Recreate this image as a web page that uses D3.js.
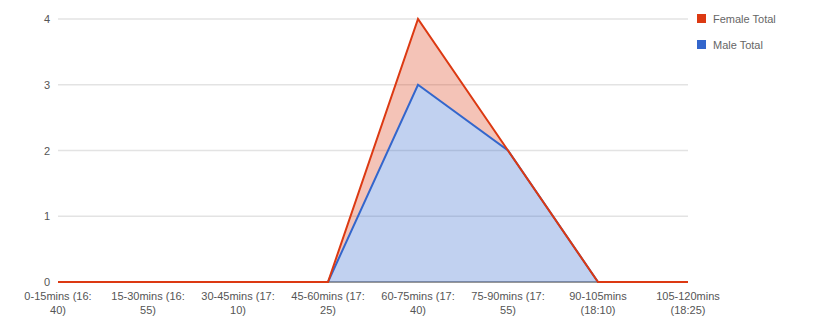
<!DOCTYPE html>
<html><head><meta charset="utf-8">
<script src="https://cdn.jsdelivr.net/npm/d3@7/dist/d3.min.js"></script>
<style>body{margin:0;background:#fff}svg{display:block;font-family:"Liberation Sans",Arial,sans-serif}</style>
</head><body><svg id="c" width="817" height="322"></svg>
<script>
const categories = ["0-15mins (16:40)","15-30mins (16:55)","30-45mins (17:10)","45-60mins (17:25)","60-75mins (17:40)","75-90mins (17:55)","90-105mins (18:10)","105-120mins (18:25)"];
const tickLabelLines = [["0-15mins (16:","40)"],["15-30mins (16:","55)"],["30-45mins (17:","10)"],["45-60mins (17:","25)"],["60-75mins (17:","40)"],["75-90mins (17:","55)"],["90-105mins","(18:10)"],["105-120mins","(18:25)"]];
const femaleTotal = [0,0,0,0,4,2,0,0];
const maleTotal = [0,0,0,0,3,2,0,0];
const yTicks = [0,1,2,3,4];
const seriesNames = ["Female Total","Male Total"];
const colors = ["#dc3912","#3366cc"];

const svg = d3.select("#c");
const x = d3.scalePoint().domain(categories).range([58,688]);
const y = d3.scaleLinear().domain([0,4]).range([282,19]);

// gridlines
svg.append("g").selectAll("line").data(yTicks).join("line")
  .attr("x1",58).attr("x2",688).attr("y1",d=>y(d)).attr("y2",d=>y(d))
  .attr("stroke",d=>d===0?"#333":"#e3e3e3").attr("stroke-width",d=>d===0?1:1.5);
svg.append("g").selectAll("text").data(yTicks).join("text")
  .attr("x",50).attr("y",d=>y(d)+4).attr("text-anchor","end")
  .attr("font-size",11).attr("fill","#555").text(d=>d);

const area = vals => d3.area().x((d,i)=>x(categories[i])).y0(y(0)).y1(d=>y(d))(vals);
const line = vals => d3.line().x((d,i)=>x(categories[i])).y(d=>y(d))(vals);

const defs = svg.append("defs");
defs.append("clipPath").attr("id","femOnly").append("path")
  .attr("clip-rule","evenodd").attr("d", area(femaleTotal)+area(maleTotal));

svg.append("path").attr("d",area(maleTotal)).attr("fill",colors[1]).attr("fill-opacity",0.3);
svg.append("path").attr("d",area(femaleTotal)).attr("fill",colors[0]).attr("fill-opacity",0.3).attr("clip-path","url(#femOnly)");
svg.append("path").attr("d",line(maleTotal)).attr("fill","none").attr("stroke",colors[1]).attr("stroke-width",2);
svg.append("path").attr("d",line(femaleTotal)).attr("fill","none").attr("stroke",colors[0]).attr("stroke-width",2);

// x labels
const xl = svg.append("g").selectAll("text").data(categories).join("text")
  .attr("x",d=>x(d)).attr("y",300).attr("text-anchor","middle").attr("font-size",11).attr("fill","#555");
xl.each(function(d,i){
  const t = d3.select(this);
  tickLabelLines[i].forEach((s,j)=>t.append("tspan").attr("x",x(d)).attr("dy",j===0?0:14).text(s));
});

// legend
const lg = svg.append("g").selectAll("g").data(seriesNames).join("g")
  .attr("transform",(d,i)=>`translate(697,${14+i*26})`);
lg.append("rect").attr("width",9).attr("height",9).attr("fill",(d,i)=>colors[i]);
lg.append("text").attr("x",16).attr("y",8.5).attr("font-size",11).attr("fill","#666").text(d=>d);
</script></body></html>
